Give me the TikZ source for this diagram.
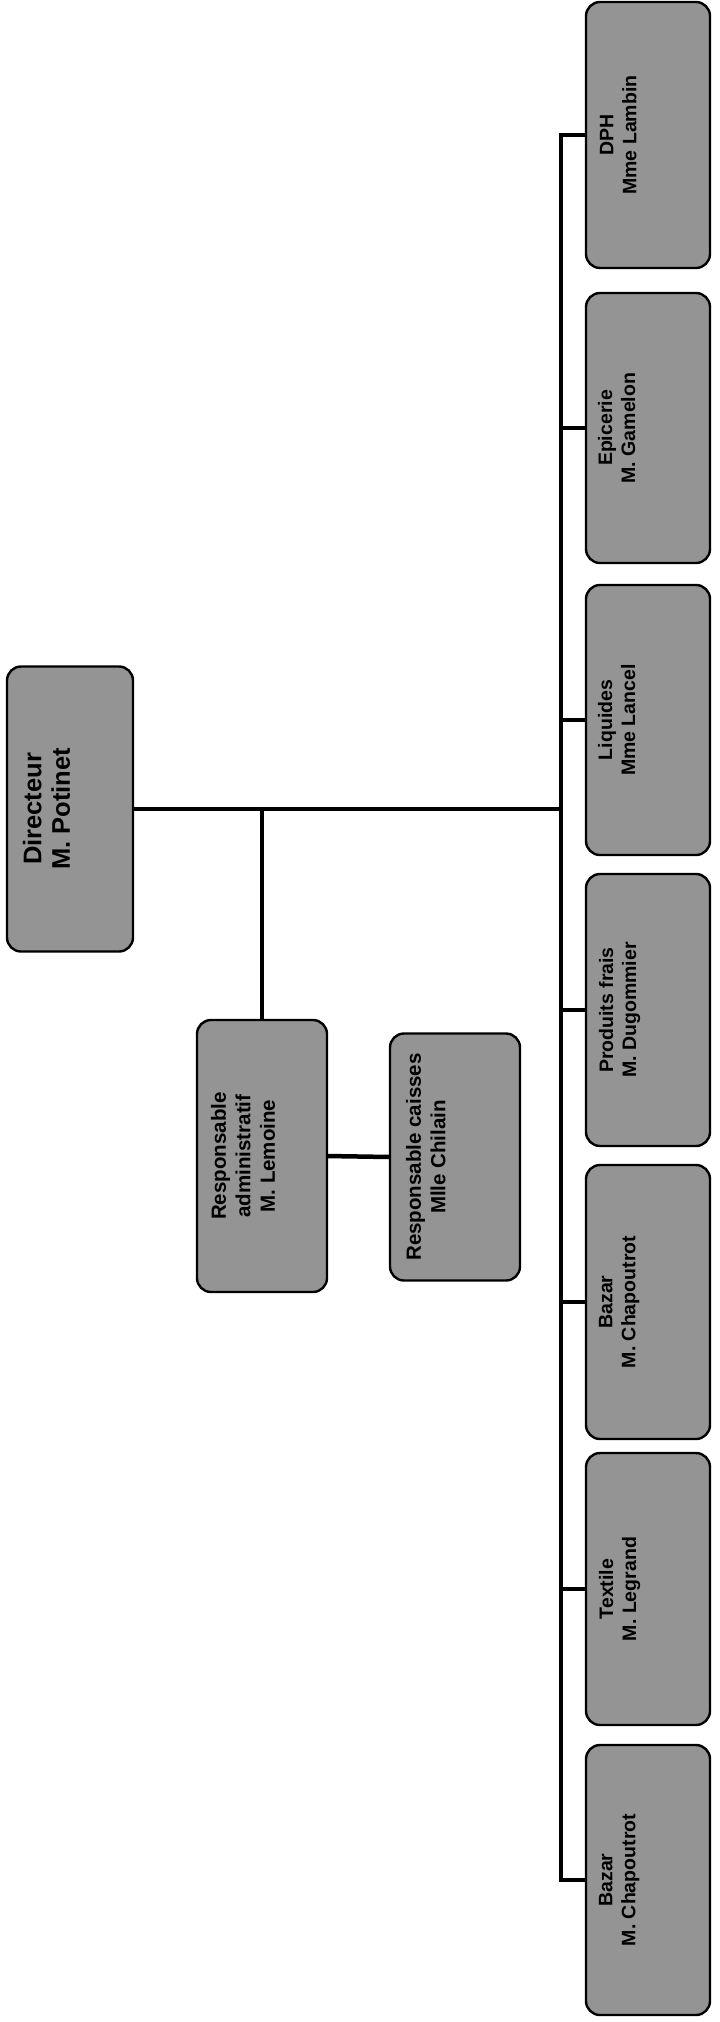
\documentclass[tikz,border=0pt]{standalone}
\usepackage{fontspec}
\setmainfont{Liberation Sans}
\usepackage{graphicx}
\usetikzlibrary{backgrounds}
\newcommand{\vlab}[4]{\rotatebox{90}{\parbox[c][#1][t]{#2}{\centering\vspace*{#3}#4}}}
\tikzset{
  orgbox/.style={draw=black, line width=2.4pt, rounded corners=14pt, fill=black!42, inner sep=0pt, outer sep=0pt, text=black},
  bigfont/.style={font=\fontsize{25.5}{28.5}\bfseries\selectfont},
  midfont/.style={font=\fontsize{20.5}{24.5}\bfseries\selectfont},
  smallfont/.style={font=\fontsize{19.5}{23}\bfseries\selectfont},
  conn/.style={draw=black, line width=4.5pt, line cap=rect}
}
\begin{document}
\begin{tikzpicture}[x=1pt,y=-1pt]
\useasboundingbox (0,0) rectangle (720,2022);
% top level
\node[orgbox, bigfont, minimum width=126pt, minimum height=285pt] (dir) at (70,809)
  {\vlab{126pt}{285pt}{16pt}{Directeur\\M. Potinet}};
\node[orgbox, midfont, minimum width=130pt, minimum height=272pt] (adm) at (262,1156)
  {\vlab{130pt}{272pt}{14pt}{Responsable\\administratif\\M. Lemoine}};
\node[orgbox, midfont, minimum width=130pt, minimum height=247pt] (cai) at (455,1157)
  {\vlab{130pt}{247pt}{16pt}{Responsable caisses\\Mlle Chilain}};
% right column
\node[orgbox, smallfont, minimum width=124pt, minimum height=266pt] (dph) at (648,135)
  {\vlab{124pt}{266pt}{14pt}{DPH\\Mme Lambin}};
\node[orgbox, smallfont, minimum width=124pt, minimum height=270pt] (epi) at (648,428)
  {\vlab{124pt}{270pt}{12pt}{Epicerie\\M. Gamelon}};
\node[orgbox, smallfont, minimum width=124pt, minimum height=270pt] (liq) at (648,720)
  {\vlab{124pt}{270pt}{12pt}{Liquides\\Mme Lancel}};
\node[orgbox, smallfont, minimum width=124pt, minimum height=272pt] (pf) at (648,1010)
  {\vlab{124pt}{272pt}{13pt}{Produits frais\\M. Dugommier}};
\node[orgbox, smallfont, minimum width=124pt, minimum height=274pt] (baz1) at (648,1302)
  {\vlab{124pt}{274pt}{13pt}{Bazar\\M. Chapoutrot}};
\node[orgbox, smallfont, minimum width=124pt, minimum height=272pt] (tex) at (648,1589)
  {\vlab{124pt}{272pt}{13pt}{Textile\\M. Legrand}};
\node[orgbox, smallfont, minimum width=124pt, minimum height=270pt] (baz2) at (648,1880)
  {\vlab{124pt}{270pt}{13pt}{Bazar\\M. Chapoutrot}};
\coordinate (tx) at (561,0);
\begin{scope}[on background layer]
  \draw[conn] (dir.east) -- (dir.east -| tx);
  \draw[conn] (adm.north) -- (adm.north |- dir.east);
  \draw[conn] (adm.east) -- (cai.west);
  \draw[conn] (dph.west -| tx) -- (baz2.west -| tx);
  \foreach \n in {dph,epi,liq,pf,baz1,tex,baz2}
    \draw[conn] (\n.west -| tx) -- (\n.west);
\end{scope}
\end{tikzpicture}
\end{document}
